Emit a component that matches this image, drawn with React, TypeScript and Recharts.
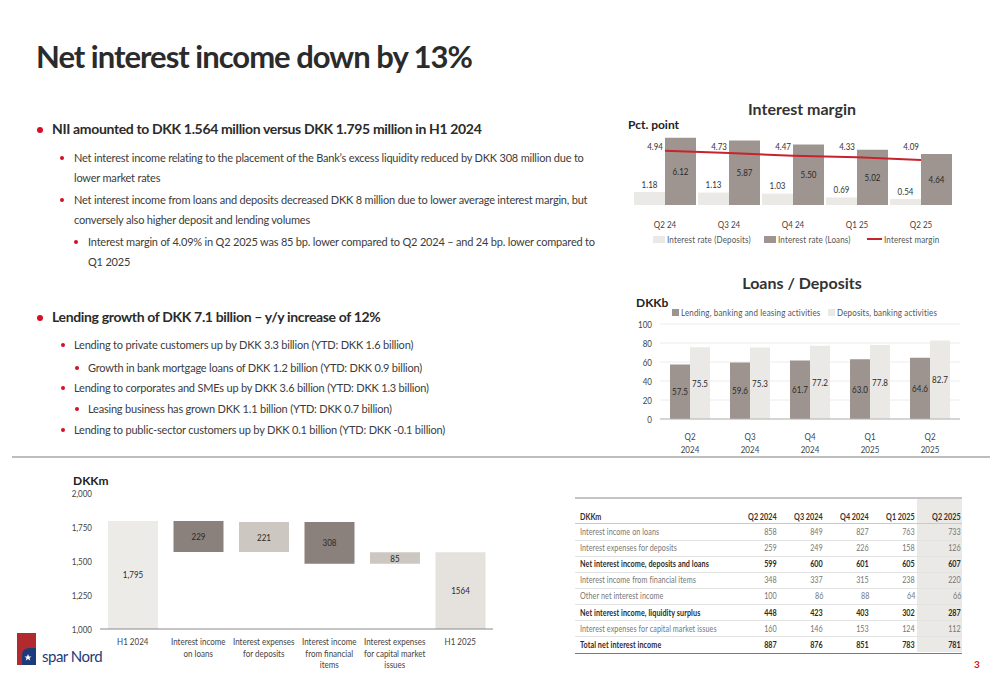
import React from 'react';
import { ComposedChart, BarChart, Bar, Line, XAxis, YAxis, CartesianGrid, LabelList, Cell } from 'recharts';

const FONT = "Lato, 'Open Sans', 'DejaVu Sans', sans-serif";
const RED = '#d50f25';
const TEXT = '#3c3c3c';
const SQ = 0.8; // horizontal squeeze for the small chart/table text

// Interest margin (pct. point)
const marginQuarters = ['Q2 24', 'Q3 24', 'Q4 24', 'Q1 25', 'Q2 25'];
const depositRate = [1.18, 1.13, 1.03, 0.69, 0.54];
const loanRate = [6.12, 5.87, 5.5, 5.02, 4.64];
const interestMargin = [4.94, 4.73, 4.47, 4.33, 4.09];

// Loans / Deposits (DKKb)
const volumeQuarters = ['Q2 2024', 'Q3 2024', 'Q4 2024', 'Q1 2025', 'Q2 2025'];
const lendingVolume = [57.5, 59.6, 61.7, 63.0, 64.6];
const depositVolume = [75.5, 75.3, 77.2, 77.8, 82.7];
const volumeTicks = [0, 20, 40, 60, 80, 100];

// NII bridge (DKKm)
const bridgeSteps = [
  'H1 2024',
  'Interest income\non loans',
  'Interest expenses\nfor deposits',
  'Interest income\nfrom financial\nitems',
  'Interest expenses\nfor capital market\nissues',
  'H1 2025',
];
const bridgeValues = [1795, -229, 221, -308, 85, 1564];
const bridgeIsTotal = [true, false, false, false, false, true];
const bridgeLabels = ['1,795', '229', '221', '308', '85', '1564'];
const bridgeTicks = [1000, 1250, 1500, 1750, 2000];

// Quarterly table (DKKm)
const tableQuarters = ['Q2 2024', 'Q3 2024', 'Q4 2024', 'Q1 2025', 'Q2 2025'];
const incomeLoans = [858, 849, 827, 763, 733];
const expensesDeposits = [259, 249, 226, 158, 126];
const niiDepositsLoans = [599, 600, 601, 605, 607];
const incomeFinancial = [348, 337, 315, 238, 220];
const otherNii = [100, 86, 88, 64, 66];
const niiLiquidity = [448, 423, 403, 302, 287];
const expensesCapital = [160, 146, 153, 124, 112];
const totalNii = [887, 876, 851, 783, 781];

const marginData = marginQuarters.map((q, i) => ({
  q,
  deposits: depositRate[i],
  loans: loanRate[i],
  margin: interestMargin[i],
}));

const volumeData = volumeQuarters.map((q, i) => ({
  q,
  lending: lendingVolume[i],
  deposits: depositVolume[i],
}));

const axisMin = bridgeTicks[0];
let running = 0;
const bridgeData = bridgeSteps.map((step, i) => {
  const v = bridgeValues[i];
  let range: number[];
  if (bridgeIsTotal[i]) {
    range = [axisMin, v];
    running = v;
  } else {
    range = [Math.min(running, running + v), Math.max(running, running + v)];
    running += v;
  }
  return { step, range, text: bridgeLabels[i] };
});

const bridgeColor = (i: number) => {
  if (bridgeIsTotal[i]) return i === 0 ? '#edebe8' : '#e5e2de';
  return bridgeValues[i] < 0 ? '#8b817c' : '#ccc7c1';
};

const tableRows = [
  { label: 'Interest income on loans', bold: false, values: incomeLoans },
  { label: 'Interest expenses for deposits', bold: false, values: expensesDeposits },
  { label: 'Net interest income, deposits and loans', bold: true, values: niiDepositsLoans },
  { label: 'Interest income from financial items', bold: false, values: incomeFinancial },
  { label: 'Other net interest income', bold: false, values: otherNii },
  { label: 'Net interest income, liquidity surplus', bold: true, values: niiLiquidity },
  { label: 'Interest expenses for capital market issues', bold: false, values: expensesCapital },
  { label: 'Total net interest income', bold: true, values: totalNii },
];

// squeezed svg text
const SText = ({ x, y, anchor = 'middle', size = 10, fill = '#333', dy = '0.355em', children }: any) => (
  <text
    transform={`translate(${x},${y}) scale(${SQ},1)`}
    x={0}
    y={0}
    dy={dy}
    textAnchor={anchor}
    fontSize={size}
    fill={fill}
    fontFamily={FONT}
  >
    {children}
  </text>
);

const LinesTick = (props: any) => {
  const { x, y, payload, sep, first, step, size } = props;
  const lines = String(payload.value).split(sep);
  return (
    <g>
      {lines.map((l: string, i: number) => (
        <SText key={i} x={x} y={y + first + i * step} size={size} fill="#444" dy={0}>
          {l}
        </SText>
      ))}
    </g>
  );
};

const PlainTick = (props: any) => {
  const { x, y, payload, anchor, dy, fmt } = props;
  const v = fmt ? fmt(payload.value) : payload.value;
  return (
    <SText x={x} y={y} anchor={anchor} dy={dy} size={10} fill="#444">
      {v}
    </SText>
  );
};

const boxOf = (props: any) => {
  const vb = props.viewBox || {};
  const x = vb.x ?? props.x;
  const y = vb.y ?? props.y;
  const w = vb.width ?? props.width ?? 0;
  const h = vb.height ?? props.height ?? 0;
  return { x: w < 0 ? x + w : x, y: h < 0 ? y + h : y, w: Math.abs(w), h: Math.abs(h) };
};

const CenterLabel = (digits: number | null) => (props: any) => {
  const b = boxOf(props);
  const v = digits === null ? props.value : Number(props.value).toFixed(digits);
  return (
    <SText x={b.x + b.w / 2} y={b.y + b.h / 2} fill="#2a2a2a">
      {v}
    </SText>
  );
};

const TopLabel = (props: any) => {
  const b = boxOf(props);
  return (
    <SText x={b.x + b.w / 2} y={b.y - 8} fill="#333">
      {Number(props.value).toFixed(2)}
    </SText>
  );
};

const MarginLabel = (props: any) => {
  const x = props.x ?? props.viewBox?.x;
  return (
    <SText x={x - 2} y={26} anchor="end" fill="#333">
      {Number(props.value).toFixed(2)}
    </SText>
  );
};

const abs = (style: React.CSSProperties): React.CSSProperties => ({ position: 'absolute', ...style });

const Squeeze = ({ origin = 'left', children }: any) => (
  <span style={{ display: 'inline-block', transform: `scaleX(${SQ})`, transformOrigin: origin }}>{children}</span>
);

const Dot = ({ x, y, r }: { x: number; y: number; r: number }) => (
  <div style={abs({ left: x - r, top: y - r, width: r * 2, height: r * 2, borderRadius: '50%', background: RED })} />
);

const TextLine = ({ x, y, bold, children }: any) => (
  <div
    style={abs({
      left: x,
      top: y - 10,
      lineHeight: '20px',
      fontSize: bold ? 14 : 11,
      letterSpacing: bold ? -0.35 : -0.2,
      fontWeight: bold ? 700 : 400,
      whiteSpace: 'nowrap',
      color: bold ? '#2b2b2b' : TEXT,
    })}
  >
    {children}
  </div>
);

const Swatch = ({ x, y, w, h, color }: any) => (
  <div style={abs({ left: x, top: y - h / 2, width: w, height: h, background: color })} />
);

const LegendText = ({ x, y, children }: any) => (
  <div
    style={abs({ left: x, top: y - 7, lineHeight: '14px', fontSize: 10, letterSpacing: 0.2, color: '#555', whiteSpace: 'nowrap' })}
  >
    <Squeeze>{children}</Squeeze>
  </div>
);

export default function App() {
  const colRight = [777, 823, 869, 915, 961];
  const rowTop = 524;
  const rowH = 16.1;
  return (
    <div
      style={abs({
        left: 0,
        top: 0,
        width: 1000,
        height: 685,
        background: '#fff',
        overflow: 'hidden',
        fontFamily: FONT,
        color: TEXT,
      })}
    >
      {/* title */}
      <div
        style={abs({ left: 36, top: 34, fontSize: 31, letterSpacing: -1, fontWeight: 700, color: '#2b2b2b', whiteSpace: 'nowrap', lineHeight: '44px' })}
      >
        Net interest income down by 13%
      </div>

      {/* bullets */}
      <Dot x={40} y={130} r={3.2} />
      <TextLine x={52} y={129} bold>
        NII amounted to DKK 1.564 million versus DKK 1.795 million in H1 2024
      </TextLine>
      <Dot x={62} y={158} r={2.2} />
      <TextLine x={74} y={158}>
        Net interest income relating to the placement of the Bank’s excess liquidity reduced by DKK 308 million due to
      </TextLine>
      <TextLine x={74} y={178}>lower market rates</TextLine>
      <Dot x={62} y={200} r={2.2} />
      <TextLine x={74} y={200}>
        Net interest income from loans and deposits decreased DKK 8 million due to lower average interest margin, but
      </TextLine>
      <TextLine x={74} y={220}>conversely also higher deposit and lending volumes</TextLine>
      <Dot x={76} y={242} r={2.2} />
      <TextLine x={88} y={242}>
        Interest margin of 4.09% in Q2 2025 was 85 bp. lower compared to Q2 2024 – and 24 bp. lower compared to
      </TextLine>
      <TextLine x={88} y={262}>Q1 2025</TextLine>

      <Dot x={40} y={318} r={3.2} />
      <TextLine x={52} y={317} bold>
        Lending growth of DKK 7.1 billion – y/y increase of 12%
      </TextLine>
      <Dot x={63} y={345} r={2.2} />
      <TextLine x={74} y={345}>Lending to private customers up by DKK 3.3 billion (YTD: DKK 1.6 billion)</TextLine>
      <Dot x={77} y={368} r={2.2} />
      <TextLine x={88} y={368}>Growth in bank mortgage loans of DKK 1.2 billion (YTD: DKK 0.9 billion)</TextLine>
      <Dot x={63} y={388} r={2.2} />
      <TextLine x={74} y={388}>Lending to corporates and SMEs up by DKK 3.6 billion (YTD: DKK 1.3 billion)</TextLine>
      <Dot x={77} y={409} r={2.2} />
      <TextLine x={88} y={409}>Leasing business has grown DKK 1.1 billion (YTD: DKK 0.7 billion)</TextLine>
      <Dot x={63} y={430} r={2.2} />
      <TextLine x={74} y={430}>Lending to public-sector customers up by DKK 0.1 billion (YTD: DKK -0.1 billion)</TextLine>

      {/* divider */}
      <div style={abs({ left: 12, top: 456, width: 978, height: 1.5, background: '#bdbdbd' })} />

      {/* Interest margin chart */}
      <div style={abs({ left: 702, top: 99, width: 200, textAlign: 'center', fontSize: 16, fontWeight: 700, color: '#333', lineHeight: '20px' })}>
        Interest margin
      </div>
      <div style={abs({ left: 628, top: 117, fontSize: 12, fontWeight: 700, color: '#222', lineHeight: '16px' })}>Pct. point</div>
      <div style={abs({ left: 620, top: 120 })}>
        <ComposedChart
          width={360}
          height={116}
          data={marginData}
          margin={{ top: 8, right: 27, bottom: 0, left: 13 }}
          barCategoryGap={1}
          barGap={0}
        >
          <XAxis
            dataKey="q"
            axisLine={false}
            tickLine={false}
            height={31}
            interval={0}
            tick={<LinesTick sep="|" first={15} step={0} size={10} />}
          />
          <YAxis hide domain={[0, 7]} />
          <Bar dataKey="deposits" fill="#ebe9e6" isAnimationActive={false}>
            <LabelList dataKey="deposits" content={TopLabel} />
          </Bar>
          <Bar dataKey="loans" fill="#9e9590" isAnimationActive={false}>
            <LabelList dataKey="loans" content={CenterLabel(2)} />
          </Bar>
          <Line dataKey="margin" stroke="#c8232c" strokeWidth={2} dot={false} isAnimationActive={false}>
            <LabelList dataKey="margin" content={MarginLabel} />
          </Line>
        </ComposedChart>
      </div>
      <Swatch x={653} y={239} w={12} h={7} color="#ebe9e6" />
      <LegendText x={667} y={239}>Interest rate (Deposits)</LegendText>
      <Swatch x={764} y={239} w={12} h={7} color="#9e9590" />
      <LegendText x={778} y={239}>Interest rate (Loans)</LegendText>
      <Swatch x={867} y={239} w={15} h={2} color="#c8232c" />
      <LegendText x={884} y={239}>Interest margin</LegendText>

      {/* Loans / Deposits chart */}
      <div style={abs({ left: 702, top: 273, width: 200, textAlign: 'center', fontSize: 16, fontWeight: 700, color: '#333', lineHeight: '20px' })}>
        Loans / Deposits
      </div>
      <div style={abs({ left: 636, top: 295, fontSize: 12, fontWeight: 700, color: '#222', lineHeight: '16px' })}>DKKb</div>
      <Swatch x={672} y={312} w={7} h={7} color="#9d948f" />
      <LegendText x={681} y={312}>Lending, banking and leasing activities</LegendText>
      <Swatch x={828} y={312} w={7} h={7} color="#ebe9e6" />
      <LegendText x={837} y={312}>Deposits, banking activities</LegendText>
      <div style={abs({ left: 600, top: 315 })}>
        <BarChart
          width={370}
          height={145}
          data={volumeData}
          margin={{ top: 9, right: 10, bottom: 0, left: 0 }}
          barCategoryGap={10}
          barGap={0}
        >
          <CartesianGrid vertical={false} stroke="#ececec" />
          <XAxis
            dataKey="q"
            axisLine={{ stroke: '#b5b5b5' }}
            tickLine={false}
            height={41}
            interval={0}
            tick={<LinesTick sep=" " first={13} step={13} size={10} />}
          />
          <YAxis
            domain={[0, 100]}
            ticks={volumeTicks}
            interval={0}
            width={60}
            axisLine={false}
            tickLine={false}
            tick={<PlainTick anchor="end" dy="0.355em" />}
          />
          <Bar dataKey="lending" fill="#9d948f" isAnimationActive={false}>
            <LabelList dataKey="lending" content={CenterLabel(1)} />
          </Bar>
          <Bar dataKey="deposits" fill="#ebe9e6" isAnimationActive={false}>
            <LabelList dataKey="deposits" content={CenterLabel(1)} />
          </Bar>
        </BarChart>
      </div>

      {/* NII bridge */}
      <div style={abs({ left: 73, top: 474, fontSize: 12, fontWeight: 700, color: '#222', lineHeight: '14px' })}>DKKm</div>
      <div style={abs({ left: 30, top: 485 })}>
        <BarChart
          width={480}
          height={195}
          data={bridgeData}
          margin={{ top: 8, right: 17, bottom: 0, left: 10 }}
          barSize={50}
        >
          <XAxis
            dataKey="step"
            axisLine={{ stroke: '#8a8a8a' }}
            tickLine={false}
            height={51}
            interval={0}
            tick={<LinesTick sep={'\n'} first={8} step={11.7} size={10} />}
          />
          <YAxis
            domain={[bridgeTicks[0], bridgeTicks[bridgeTicks.length - 1]]}
            ticks={bridgeTicks}
            interval={0}
            allowDataOverflow
            width={60}
            axisLine={false}
            tickLine={false}
            tick={<PlainTick anchor="end" dy="0.355em" fmt={(v: number) => v.toLocaleString('en-US')} />}
          />
          <Bar dataKey="range" isAnimationActive={false}>
            {bridgeData.map((d, i) => (
              <Cell key={d.step} fill={bridgeColor(i)} />
            ))}
            <LabelList dataKey="text" content={CenterLabel(null)} />
          </Bar>
        </BarChart>
      </div>

      {/* table */}
      <div style={abs({ left: 917, top: 497, width: 45, height: 155, background: '#ebe9e6' })} />
      <div style={abs({ left: 575, top: 497, width: 387, height: 2, background: '#c4c4c4' })} />
      <div style={abs({ left: 575, top: 522.5, width: 387, height: 1, background: '#c9c9c9' })} />
      <div style={abs({ left: 580, top: 510, fontSize: 9, fontWeight: 700, color: '#333', lineHeight: '14px' })}>
        <Squeeze>DKKm</Squeeze>
      </div>
      {tableQuarters.map((q, c) => (
        <div
          key={q}
          style={abs({
            left: colRight[c] - 60,
            width: 60,
            top: 510,
            textAlign: 'right',
            fontSize: 9,
            fontWeight: 700,
            color: '#333',
            lineHeight: '14px',
            whiteSpace: 'nowrap',
          })}
        >
          <Squeeze origin="right">{q}</Squeeze>
        </div>
      ))}
      {tableRows.map((row, r) => {
        const top = rowTop + r * rowH;
        const color = row.bold ? '#2b2b2b' : '#777';
        const last = r === tableRows.length - 1;
        return (
          <React.Fragment key={row.label}>
            <div
              style={abs({
                left: 580,
                top,
                fontSize: 9,
                fontWeight: row.bold ? 700 : 400,
                color,
                lineHeight: `${rowH}px`,
                whiteSpace: 'nowrap',
                letterSpacing: 0.1,
              })}
            >
              <Squeeze>{row.label}</Squeeze>
            </div>
            {row.values.map((v, c) => (
              <div
                key={c}
                style={abs({
                  left: colRight[c] - 40,
                  width: 40,
                  top,
                  textAlign: 'right',
                  fontSize: 9,
                  fontWeight: row.bold ? 700 : 400,
                  color,
                  lineHeight: `${rowH}px`,
                })}
              >
                <Squeeze origin="right">{v}</Squeeze>
              </div>
            ))}
            <div
              style={abs({
                left: 575,
                top: top + rowH - (last ? 0 : 0.5),
                width: 387,
                height: last ? 1.5 : 1,
                background: last ? '#7a7a7a' : '#e3e3e3',
              })}
            />
          </React.Fragment>
        );
      })}

      {/* logo */}
      <svg style={abs({ left: 17, top: 633 })} width={22} height={33} viewBox="0 0 22 33">
        <rect x={0} y={0} width={19} height={32} fill="#b02a30" />
        <path d="M5,32 L5,23 Q5,15 13,15 L19,15 L19,32 Z" fill="#1d3b7a" />
        <path d="M11,21 L12,23.5 L14.5,23.5 L12.5,25 L13.3,27.5 L11,26 L8.7,27.5 L9.5,25 L7.5,23.5 L10,23.5 Z" fill="#fff" />
      </svg>
      <div style={abs({ left: 42, top: 646, fontSize: 15, color: '#1d3b7a', lineHeight: '20px', whiteSpace: 'nowrap', letterSpacing: -0.5 })}>
        spar Nord
      </div>

      {/* page number */}
      <div style={abs({ left: 974, top: 657, fontSize: 10, fontWeight: 700, color: RED, lineHeight: '14px' })}>3</div>
    </div>
  );
}
